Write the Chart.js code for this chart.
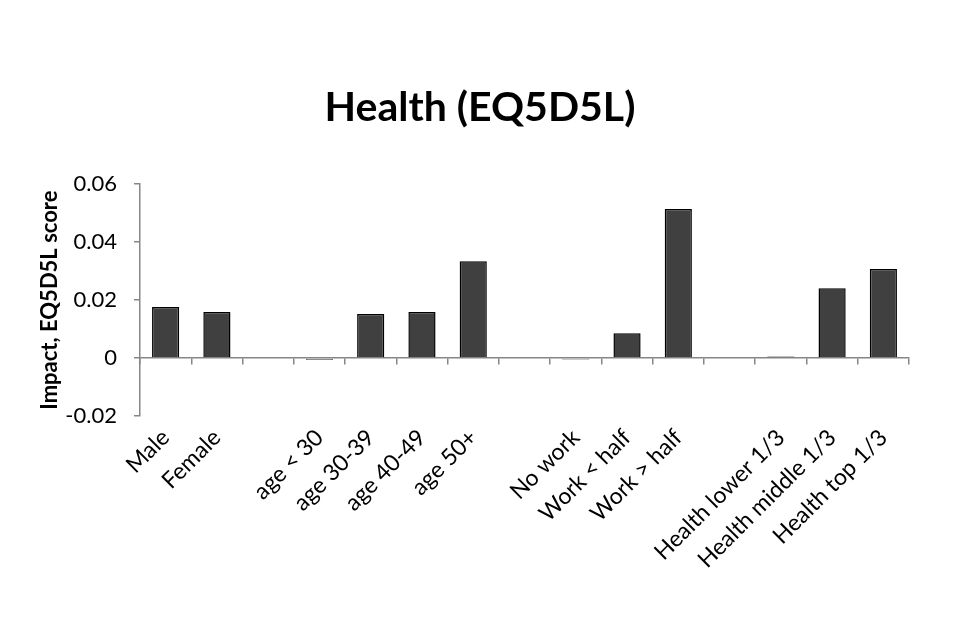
<!DOCTYPE html>
<html>
<head>
<meta charset="utf-8">
<script src="https://cdn.jsdelivr.net/npm/chart.js@4"></script>
<style>
  html, body { margin: 0; padding: 0; background: #fff; }
  #wrap { width: 960px; height: 640px; }
</style>
</head>
<body>
<div id="wrap"><canvas id="chart"></canvas></div>
<script>
// data
const categories = [
  'Male', 'Female', '',
  'age < 30', 'age 30-39', 'age 40-49', 'age 50+', '',
  'No work', 'Work < half', 'Work > half', '',
  'Health lower 1/3', 'Health middle 1/3', 'Health top 1/3'
];
const impact = [
  0.0176, 0.0159, null,
  -0.0006, 0.0152, 0.0159, 0.0334, null,
  -0.0005, 0.0086, 0.0514, null,
  0.0005, 0.0241, 0.0307
];
const yTickValues = [-0.02, 0, 0.02, 0.04, 0.06];
const yTickLabels = ['-0.02', '0', '0.02', '0.04', '0.06'];

const axisGrey = '#868686';
Chart.defaults.font.family = 'Lato, "Open Sans", sans-serif';
Chart.defaults.color = '#000';

new Chart(document.getElementById('chart'), {
  type: 'bar',
  data: {
    labels: categories,
    datasets: [{
      data: impact,
      backgroundColor: '#404040',
      borderColor: '#000',
      borderWidth: 1.5,
      barPercentage: 0.53,
      categoryPercentage: 1,
      xAxisID: 'x'
    }]
  },
  options: {
    responsive: true,
    maintainAspectRatio: false,
    animation: false,
    layout: { padding: 0 },
    plugins: {
      legend: { display: false },
      tooltip: { enabled: false },
      title: {
        display: true,
        text: 'Health (EQ5D5L)',
        font: { size: 41, weight: 'bold' },
        color: '#000',
        padding: { top: 83, bottom: 52 }
      }
    },
    scales: {
      // axis line sits at zero, with tick marks between categories
      x: {
        type: 'category',
        position: { y: 0 },
        offset: true,
        ticks: { display: false },
        grid: { offset: true, drawOnChartArea: false, drawTicks: true, tickLength: 6, color: axisGrey, lineWidth: 1.5 },
        border: { color: axisGrey, width: 1.5 }
      },
      // category labels at the bottom
      x2: {
        type: 'category',
        position: 'bottom',
        labels: categories,
        offset: true,
        grid: { display: false },
        border: { display: false },
        ticks: { font: { size: 23 }, maxRotation: 45, minRotation: 45, autoSkip: false, padding: 0 },
        afterFit: s => { s.height = 224; }
      },
      y: {
        min: -0.02,
        max: 0.06,
        afterBuildTicks: s => { s.ticks = yTickValues.map(v => ({ value: v })); },
        ticks: {
          font: { size: 22 },
          padding: 17,
          callback: (v, i) => yTickLabels[i]
        },
        grid: { drawOnChartArea: false, drawTicks: true, tickLength: 6, color: axisGrey, lineWidth: 1.5 },
        border: { color: axisGrey, width: 1.5 },
        title: {
          display: true,
          text: 'Impact, EQ5D5L score',
          font: { size: 22, weight: 'bold' },
          color: '#000',
          padding: { top: 37, bottom: 0 }
        },
        afterFit: s => { s.width = 140; }
      },
      // empty right margin so the title stays centred on the page
      yRight: {
        position: 'right',
        display: true,
        grid: { display: false },
        border: { display: false },
        ticks: { display: false },
        afterFit: s => { s.width = 51; }
      }
    }
  }
});
</script>
</body>
</html>
